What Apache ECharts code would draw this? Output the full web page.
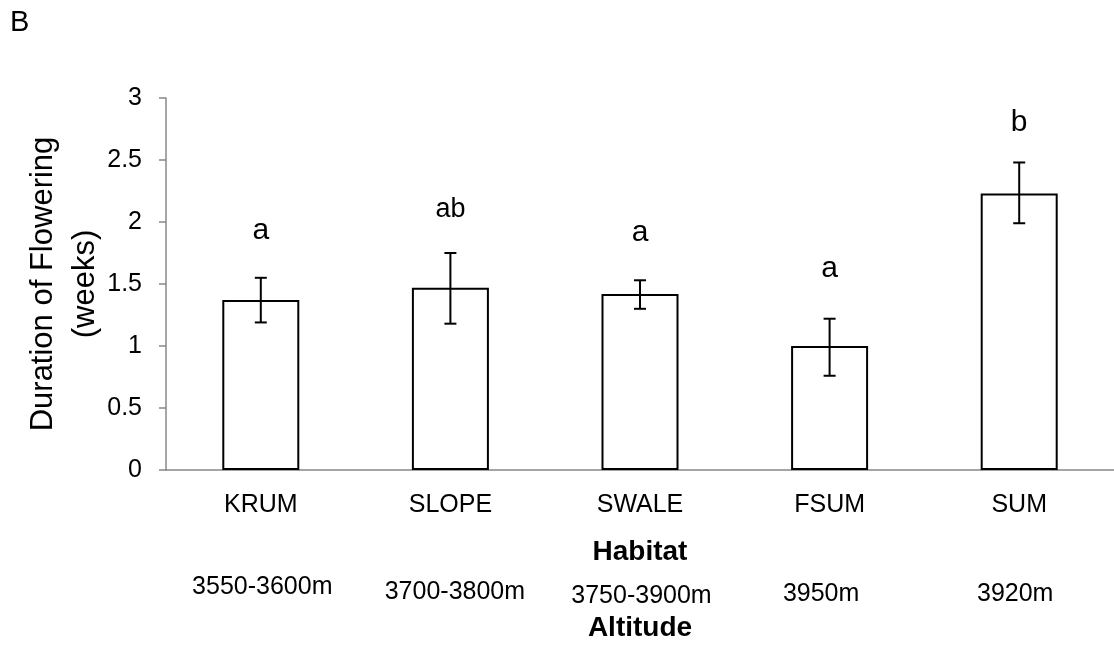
<!DOCTYPE html>
<html>
<head>
<meta charset="utf-8">
<script src="https://cdn.jsdelivr.net/npm/echarts@6/dist/echarts.min.js"></script>
<style>
  html, body { margin: 0; padding: 0; background: #fff; }
  #main { width: 1114px; height: 647px; }
</style>
</head>
<body>
<div id="main"></div>
<script>
var categories = ['KRUM', 'SLOPE', 'SWALE', 'FSUM', 'SUM'];
var altitudes = ['3550-3600m', '3700-3800m', '3750-3900m', '3950m', '3920m'];
var means = [1.37, 1.47, 1.42, 1.00, 2.23];
var errLow = [1.19, 1.18, 1.30, 0.76, 1.99];
var errHigh = [1.55, 1.75, 1.53, 1.22, 2.48];
var letters = ['a', 'ab', 'a', 'a', 'b'];
var letterAt = [1.93, 2.10, 1.91, 1.62, 2.80];
var yTicks = [0, 0.5, 1, 1.5, 2, 2.5, 3];

var FONT = 'Liberation Sans, Arial, sans-serif';
// the altitude labels sit a bit staggered in the original
var altPad = [[0, 0, 0, 3], [5, 0, 0, 9], [9, 0, 0, 3], [7, 17, 0, 0], [7, 8, 0, 0]];

var chart = echarts.init(document.getElementById('main'), null, { renderer: 'canvas' });

var errData = categories.map(function (c, i) { return [i, errLow[i], errHigh[i]]; });
var letterData = categories.map(function (c, i) { return [i, letterAt[i], letters[i]]; });
var altData = altitudes.map(function (a, i) {
  return { value: a, textStyle: { padding: altPad[i] } };
});

var option = {
  backgroundColor: '#fff',
  animation: false,
  title: {
    text: 'B',
    left: 10,
    top: 8,
    padding: 0,
    textStyle: { fontFamily: FONT, fontSize: 29, fontWeight: 'normal', color: '#000' }
  },
  grid: { left: 166, top: 98, bottom: 177, width: 955 },
  xAxis: [{
    type: 'category',
    data: categories,
    name: 'Habitat',
    nameLocation: 'middle',
    nameGap: 68,
    nameMoveOverlap: false,
    nameTextStyle: { fontFamily: FONT, fontSize: 28, fontWeight: 'bold', color: '#000' },
    axisLine: { lineStyle: { color: '#888', width: 1.5 } },
    axisTick: { length: 7, lineStyle: { color: '#888', width: 1.5 } },
    axisLabel: { margin: 23, fontFamily: FONT, fontSize: 25, color: '#000' }
  }, {
    type: 'category',
    data: altData,
    position: 'bottom',
    name: 'Altitude',
    nameLocation: 'middle',
    nameGap: 144,
    nameMoveOverlap: false,
    nameTextStyle: { fontFamily: FONT, fontSize: 28, fontWeight: 'bold', color: '#000' },
    axisLine: { show: false },
    axisTick: { show: false },
    axisLabel: { margin: 105, fontFamily: FONT, fontSize: 25, color: '#000' }
  }],
  yAxis: {
    type: 'value',
    min: yTicks[0],
    max: yTicks[yTicks.length - 1],
    interval: yTicks[1] - yTicks[0],
    name: 'Duration of Flowering\n(weeks)',
    nameLocation: 'middle',
    nameRotate: 90,
    nameGap: 60,
    nameMoveOverlap: false,
    nameTextStyle: { fontFamily: FONT, fontSize: 31, lineHeight: 42, color: '#000' },
    axisLine: { show: true, lineStyle: { color: '#888', width: 1.5 } },
    axisTick: { show: true, length: 7, lineStyle: { color: '#888', width: 1.5 } },
    axisLabel: { margin: 24, fontFamily: FONT, fontSize: 25, color: '#000' },
    splitLine: { show: false }
  },
  series: [{
    type: 'bar',
    data: means,
    barWidth: 77,
    itemStyle: { color: '#fff', borderColor: '#000', borderWidth: 2 }
  }, {
    type: 'custom',
    data: errData,
    z: 5,
    renderItem: function (params, api) {
      var lo = api.coord([api.value(0), api.value(1)]);
      var hi = api.coord([api.value(0), api.value(2)]);
      var w = 6;
      var st = { stroke: '#000', lineWidth: 2 };
      return {
        type: 'group',
        children: [
          { type: 'line', shape: { x1: lo[0], y1: lo[1], x2: hi[0], y2: hi[1] }, style: st },
          { type: 'line', shape: { x1: lo[0] - w, y1: lo[1], x2: lo[0] + w, y2: lo[1] }, style: st },
          { type: 'line', shape: { x1: hi[0] - w, y1: hi[1], x2: hi[0] + w, y2: hi[1] }, style: st }
        ]
      };
    }
  }, {
    type: 'custom',
    data: letterData,
    z: 6,
    renderItem: function (params, api) {
      var p = api.coord([api.value(0), api.value(1)]);
      var txt = letters[params.dataIndex];
      return {
        type: 'text',
        x: p[0],
        y: p[1],
        style: {
          text: txt,
          textAlign: 'center',
          textVerticalAlign: 'middle',
          fontFamily: FONT,
          fontSize: txt.length > 1 ? 27 : 30,
          fill: '#000'
        }
      };
    }
  }]
};

chart.setOption(option);
</script>
</body>
</html>
